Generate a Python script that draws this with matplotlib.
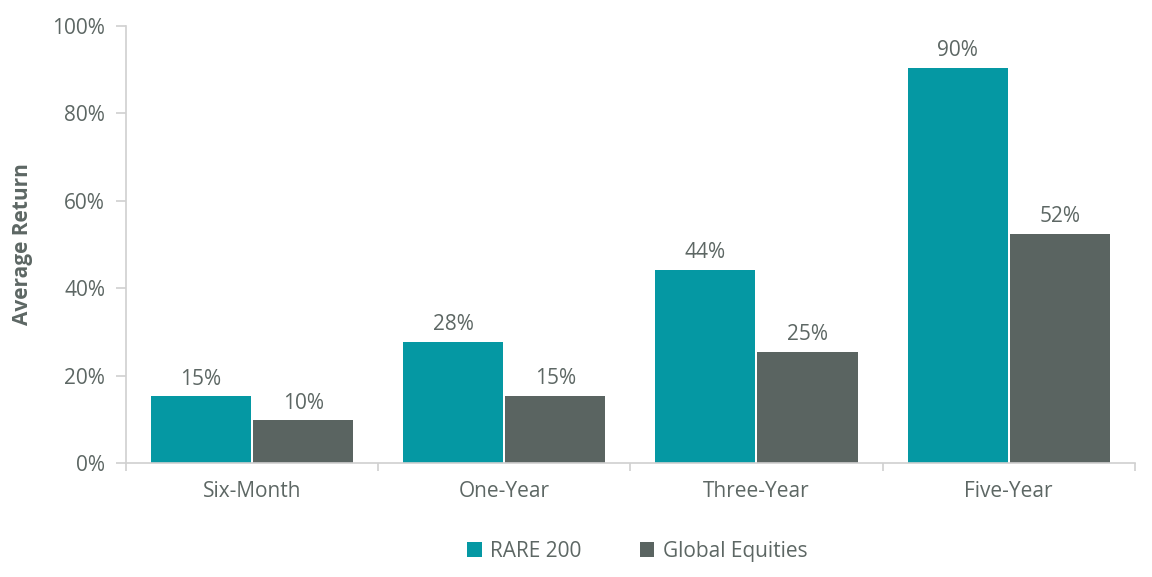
import numpy as np
import matplotlib.pyplot as plt
from matplotlib.ticker import FuncFormatter, FixedLocator

categories = ['Six-Month', 'One-Year', 'Three-Year', 'Five-Year']
rare_200 = [15.3, 27.7, 44.2, 90.4]
global_equities = [9.8, 15.4, 25.4, 52.4]
series_names = ['RARE 200', 'Global Equities']

teal = '#0598a3'
grey = '#5a6461'
text_col = '#5d6764'
axis_col = '#d0d0d0'

plt.rcParams['font.family'] = ['Open Sans', 'DejaVu Sans']

fig = plt.figure(figsize=(11.52, 5.77), dpi=100)
ax = fig.add_axes([0.1094, 0.1976, 0.8756, 0.7574])

x = np.arange(len(categories))
w = 0.397
gap = 0.004
b1 = ax.bar(x - w / 2 - gap, rare_200, w, color=teal, label=series_names[0])
b2 = ax.bar(x + w / 2 + gap, global_equities, w, color=grey, label=series_names[1])

for bars, vals in ((b1, rare_200), (b2, global_equities)):
    for r, v in zip(bars, vals):
        ax.text(r.get_x() + r.get_width() / 2, v + 1.5, f'{v:.0f}%',
                ha='center', va='bottom', fontsize=15, color=text_col)

ax.set_xlim(-0.5, len(categories) - 0.5)
ax.set_ylim(0, 100)
ax.set_yticks(np.arange(0, 101, 20))
ax.yaxis.set_major_formatter(FuncFormatter(lambda v, p: f'{v:.0f}%'))
ax.set_xticks(x)
ax.set_xticklabels(categories)
ax.xaxis.set_minor_locator(FixedLocator(np.arange(-0.5, len(categories), 1.0)))
ax.tick_params(axis='x', which='major', length=0, pad=13, labelsize=15, labelcolor=text_col)
ax.tick_params(axis='x', which='minor', length=6, width=1.2, color=axis_col)
ax.tick_params(axis='y', length=7, width=1.2, color=axis_col, pad=8, labelsize=15, labelcolor=text_col)

for s in ['top', 'right']:
    ax.spines[s].set_visible(False)
for s in ['left', 'bottom']:
    ax.spines[s].set_color(axis_col)
    ax.spines[s].set_linewidth(1.2)

ax.set_ylabel('Average Return', fontsize=15, fontweight='bold', color=text_col, labelpad=14)

leg = fig.legend(handles=[b1, b2], labels=series_names, loc='center',
                 bbox_to_anchor=(0.553, 0.045), ncol=2, frameon=False,
                 fontsize=15, handlelength=0.7, handleheight=0.7,
                 handletextpad=0.4, columnspacing=2.8)
for t in leg.get_texts():
    t.set_color(text_col)

fig.savefig('out.png', dpi=100)
